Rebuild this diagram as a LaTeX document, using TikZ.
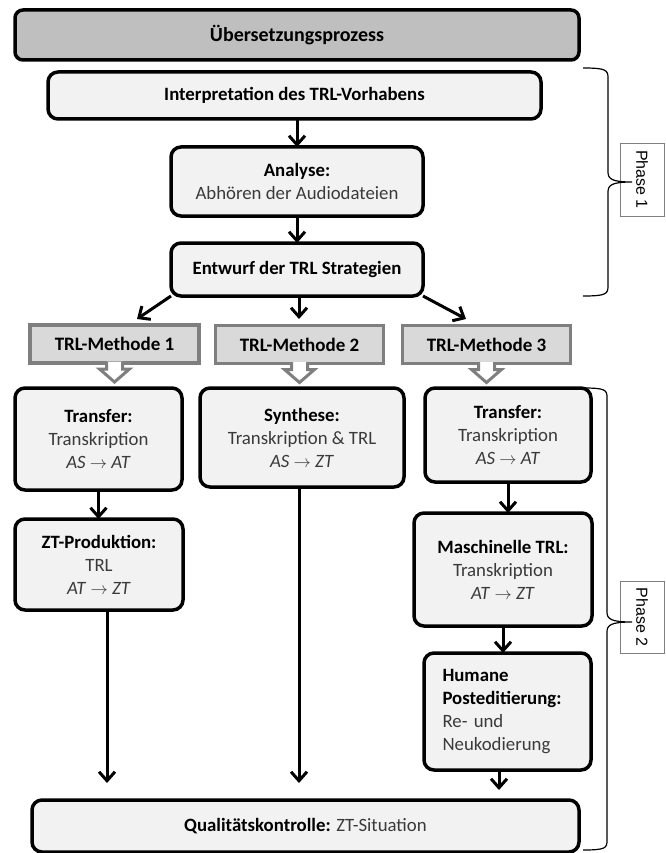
\documentclass[tikz,border=0pt]{standalone}
\usepackage{fontspec}
\setmainfont{Carlito}
\newfontfamily\phasefont{Liberation Sans}
\usetikzlibrary{arrows.meta}

\definecolor{titelgrau}{HTML}{BFBFBF}
\definecolor{boxgrau}{HTML}{F2F2F2}
\definecolor{methgrau}{HTML}{D9D9D9}
\definecolor{randgrau}{HTML}{7F7F7F}
\definecolor{textgrau}{HTML}{3A3A3A}

\newcommand{\grau}[1]{\textcolor{textgrau}{#1}}
\newcommand{\richtung}[2]{\grau{\textit{#1}~\ensuremath{\rightarrow}~\textit{#2}}}

\begin{document}
\begin{tikzpicture}[x=1pt, y=-1pt, line width=1pt,
	font=\fontsize{18.8}{23}\selectfont,
	titel/.style={draw, line width=3.5pt, rounded corners=8pt, outer sep=0pt, fill=titelgrau, font=\fontsize{20}{24}\selectfont\bfseries},
	schritt/.style={draw, line width=3.5pt, rounded corners=10pt, outer sep=0pt, inner sep=0pt, fill=boxgrau, align=center},
	methode/.style={draw=randgrau, line width=3.5pt, outer sep=0pt, inner sep=0pt, fill=methgrau, font=\fontsize{19}{23}\selectfont\bfseries},
	pfeil/.style={-{Straight Barb[length=9pt,width=16pt]}, line width=3pt},
	phase/.style={draw=randgrau, line width=0.8pt, rotate=-90, inner sep=0pt, fill=white, font=\phasefont\fontsize{16}{18}\selectfont},
	klammer/.style={line width=1.2pt}]
	\useasboundingbox (0,0) rectangle (665,853);
	
	% Phase 1
	\node[titel, minimum width=564pt, minimum height=50pt] (titel) at (297,35) {Übersetzungsprozess};
	\node[schritt, minimum width=493pt, minimum height=47pt] (interp) at (294.5,95.5) {\textbf{Interpretation des TRL-Vorhabens}};
	\node[schritt, minimum width=252pt, minimum height=69pt] (analyse) at (297,181.5) {\textbf{Analyse:}\\ \grau{Abhören der Audiodateien}};
	\node[schritt, minimum width=252pt, minimum height=53pt] (entwurf) at (297,269.5) {\textbf{Entwurf der TRL Strategien}};
	
	\draw[pfeil] (interp.south -| analyse.north) -- (analyse.north);
	\draw[pfeil] (analyse.south) -- (entwurf.north);
	
	% Methoden
	\node[methode, minimum width=169pt, minimum height=38pt] (meth1) at (114.5,344) {TRL-Methode 1};
	\node[methode, minimum width=168pt, minimum height=38pt] (meth2) at (299.5,344.5) {TRL-Methode 2};
	\node[methode, minimum width=168pt, minimum height=38pt] (meth3) at (486.5,344.5) {TRL-Methode 3};
	
	\foreach \m in {meth1,meth2,meth3}
		\draw[draw=randgrau, line width=3pt, fill=white, line join=miter]
			([xshift=-8pt,yshift=1.5pt]\m.south) -- ++(0,7.5) -- ++(-7,0) -- ++(15,13) -- ++(15,-13) -- ++(-7,0) -- ++(0,-7.5);
	
	\coordinate (m1ziel) at (137,319);
	\coordinate (m2ziel) at (299,319);
	\coordinate (m3ziel) at (466,319);
	\draw[pfeil] (entwurf.south west) -- (m1ziel);
	\draw[pfeil] (entwurf.south -| m2ziel) -- (m2ziel);
	\draw[pfeil] (entwurf.south east) -- (m3ziel);
	
	% Phase 2
	\node[schritt, minimum width=167pt, minimum height=102pt] (transA) at (98.5,439) {\textbf{Transfer:}\\ \grau{Transkription}\\ \richtung{AS}{AT}};
	\node[schritt, minimum width=204pt, minimum height=99pt] (synth) at (302,437.5) {\textbf{Synthese:}\\ \grau{Transkription \& TRL}\\ \richtung{AS}{ZT}};
	\node[schritt, minimum width=166pt, minimum height=94pt] (transB) at (508,435) {\textbf{Transfer:}\\ \grau{Transkription}\\ \richtung{AS}{AT}};
	\node[schritt, minimum width=168pt, minimum height=91pt] (ztprod) at (99,564.5) {\textbf{ZT-Produktion:}\\ \grau{TRL}\\ \richtung{AT}{ZT}};
	\node[schritt, minimum width=178pt, minimum height=113pt] (masch) at (503,569.5) {\textbf{Maschinelle TRL:}\\ \grau{Transkription}\\ \richtung{AT}{ZT}};
	\node[schritt, minimum width=167pt, minimum height=117pt, text width=130pt, align=left] (human) at (507.5,711.5) {\textbf{Humane}\\ \textbf{Posteditierung:}\\ \grau{Re- und}\\ \grau{Neukodierung}};
	\node[schritt, minimum width=547pt, minimum height=52pt] (qual) at (305.5,826) {\textbf{Qualitätskontrolle:} \grau{ZT-Situation}};
	
	\draw[pfeil] (transA.south) -- (transA.south |- ztprod.north);
	\draw[pfeil] (transB.south) -- (transB.south |- masch.north);
	\draw[pfeil] (masch.south) -- (masch.south |- human.north);
	
	\coordinate (q1) at (107,783);
	\coordinate (q2) at (299,783);
	\coordinate (q3) at (499,790);
	\draw[pfeil] (ztprod.south -| q1) -- (q1);
	\draw[pfeil] (synth.south -| q2) -- (q2);
	\draw[pfeil] (human.south -| q3) -- (q3);
	
	% Klammern
	\node[phase, minimum width=73pt, minimum height=44pt] (phase1) at (642,179.5) {Phase 1};
	\node[phase, minimum width=72pt, minimum height=44pt] (phase2) at (642,617) {Phase 2};
	\draw[klammer] (583,68) .. controls (606,68) and (608,70) .. (608,78)
		-- (608,172) .. controls (608,179) and (612,182) .. (632,182)
		.. controls (612,182) and (608,185) .. (608,192)
		-- (608,286) .. controls (608,294) and (606,296) .. (583,296);
	\draw[klammer] (583,388) .. controls (606,388) and (607,390) .. (607,398)
		-- (607,612) .. controls (607,619) and (611,622) .. (632,622)
		.. controls (611,622) and (607,625) .. (607,632)
		-- (607,840) .. controls (607,848) and (606,850) .. (583,850);
\end{tikzpicture}
\end{document}
